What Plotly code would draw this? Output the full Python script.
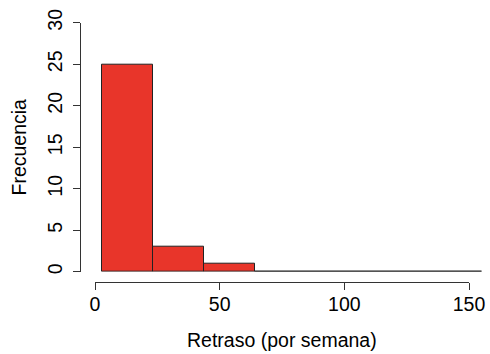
import plotly.graph_objects as go

# Histogram data
breaks = [2.9, 23.3, 43.7, 64.1, 155.2]
counts = [25, 3, 1, 0]
x_ticks = [0, 50, 100, 150]
y_ticks = [0, 5, 10, 15, 20, 25, 30]
x_label = "Retraso (por semana)"
y_label = "Frecuencia"

W, H = 490, 354
centers = [(a + b) / 2 for a, b in zip(breaks[:-1], breaks[1:])]
widths = [b - a for a, b in zip(breaks[:-1], breaks[1:])]

FONT = "Liberation Sans, Arial, Helvetica, sans-serif"
FS = 19.5

px0, px150 = 95.0, 469.0
ppu = (px150 - px0) / 150.0
data_right = 488.0
y0_px, y30_px = 271.7, 22.7

fig = go.Figure()
fig.add_trace(go.Bar(
    x=centers, y=counts, width=widths,
    marker=dict(color="#E8352A", line=dict(color="#222222", width=1)),
    cliponaxis=False, showlegend=False, hoverinfo="skip",
))
# empty trace so the display x-axis (0..150) is drawn
fig.add_trace(go.Scatter(x=[None], y=[None], xaxis="x2", yaxis="y",
                         showlegend=False, hoverinfo="skip"))

fig.update_layout(
    width=W, height=H,
    margin=dict(l=0, r=0, t=0, b=0, autoexpand=False),
    paper_bgcolor="white", plot_bgcolor="rgba(0,0,0,0)",
    font=dict(family=FONT, size=FS, color="black"),
    bargap=0,
    xaxis=dict(
        domain=[px0 / W, data_right / W],
        range=[0, (data_right - px0) / ppu],
        visible=False, automargin=False,
    ),
    xaxis2=dict(
        domain=[px0 / W, px150 / W],
        range=[0, 150],
        anchor="free", position=(H - 282.3) / H,
        showline=True, linecolor="#333333", linewidth=1,
        ticks="outside", ticklen=7, tickcolor="#333333", tickwidth=1,
        tickvals=x_ticks, ticktext=[str(v) for v in x_ticks],
        ticklabelstandoff=-3,
        showgrid=False, zeroline=False, automargin=False,
        tickfont=dict(family=FONT, size=FS, color="black"),
    ),
    yaxis=dict(
        domain=[(H - y0_px) / H, (H - y30_px) / H],
        range=[0, 30],
        anchor="free", position=80 / W,
        showline=True, linecolor="#333333", linewidth=1,
        ticks="outside", ticklen=7, tickcolor="#333333", tickwidth=1,
        tickvals=y_ticks, ticktext=[str(v) for v in y_ticks],
        tickangle=-90, ticklabelstandoff=3,
        showgrid=False, zeroline=False, automargin=False,
        tickfont=dict(family=FONT, size=FS, color="black"),
    ),
    annotations=[
        dict(text=x_label, xref="paper", yref="paper",
             x=282 / W, y=(H - 340) / H, xanchor="center", yanchor="middle",
             showarrow=False, font=dict(family=FONT, size=FS, color="black")),
        dict(text=y_label, xref="paper", yref="paper",
             x=18 / W, y=(H - 147.5) / H, xanchor="center", yanchor="middle",
             textangle=-90,
             showarrow=False, font=dict(family=FONT, size=FS, color="black")),
    ],
)

fig.write_html("out.html")
